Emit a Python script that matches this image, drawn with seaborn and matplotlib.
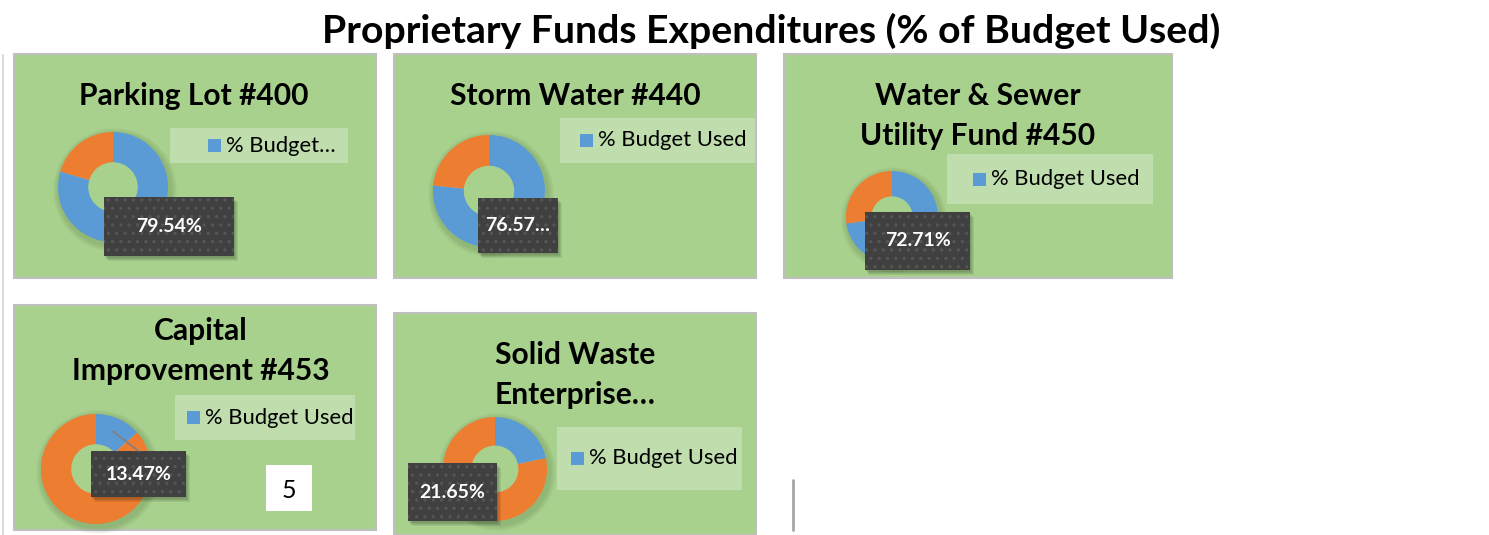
"""Proprietary Funds Expenditures - donut panels."""

import matplotlib
matplotlib.use("Agg")
import matplotlib.pyplot as plt
import numpy as np
import seaborn as sns
from matplotlib.patches import Rectangle, Wedge

# データ
fund_titles = [
    "Parking Lot #400",
    "Storm Water #440",
    "Water & Sewer\nUtility Fund #450",
    "Capital\nImprovement #453",
    "Solid Waste\nEnterprise…",
]
budget_used = [79.54, 76.57, 72.71, 13.47, 21.65]
value_labels = ["79.54%", "76.57…", "72.71%", "13.47%", "21.65%"]
legend_labels = ["% Budget…", "% Budget Used", "% Budget Used", "% Budget Used", "% Budget Used"]
chart_title = "Proprietary Funds Expenditures (% of Budget Used)"
page_number = "5"

# レイアウト（ピクセル）
W, H = 1489, 535
layout = [
    # panel box, title xy, donut (cx, cy, r), legend box, legend square x, callout box
    dict(panel=(14, 54, 376, 278), title=(194, 96), donut=(113, 187, 55),
         legend=(170, 128, 348, 163), sq=208, callout=(104, 197, 234, 256)),
    dict(panel=(394, 54, 756, 278), title=(575, 96), donut=(489, 191, 56),
         legend=(560, 118, 755, 163), sq=580, callout=(478, 198, 558, 253)),
    dict(panel=(784, 54, 1172, 278), title=(978, 116), donut=(892, 217, 46),
         legend=(947, 154, 1153, 204), sq=973, callout=(865, 212, 970, 270)),
    dict(panel=(14, 305, 376, 530), title=(201, 351), donut=(96, 469, 55),
         legend=(175, 395, 355, 440), sq=187, callout=(91, 451, 186, 497)),
    dict(panel=(394, 313, 756, 535), title=(575, 375), donut=(495, 469, 52),
         legend=(557, 427, 742, 490), sq=571, callout=(408, 463, 497, 521)),
]

GREEN = "#a9d18e"
LEGEND_BG = "#c5e0b4"
BLUE = "#5b9bd5"
ORANGE = "#ed7d31"
DARK = "#404040"

sns.set_theme(style="white")
plt.rcParams["font.family"] = ["Lato", "DejaVu Sans"]
plt.rcParams["hatch.linewidth"] = 1.2


def box(x0, y0, x1, y1):
    """ピクセル座標 -> figure 座標 [l, b, w, h]."""
    return [x0 / W, 1 - y1 / H, (x1 - x0) / W, (y1 - y0) / H]


fig = plt.figure(figsize=(W / 100, H / 100), dpi=100)
fig.patch.set_facecolor("white")

# 背景レイヤー
bg = fig.add_axes([0, 0, 1, 1], zorder=0)
bg.set_xlim(0, W)
bg.set_ylim(H, 0)
bg.axis("off")
# 上レイヤー（凡例・ラベル）
top = fig.add_axes([0, 0, 1, 1], zorder=5)
top.set_xlim(0, W)
top.set_ylim(H, 0)
top.axis("off")
top.patch.set_alpha(0)

bg.plot([3, 3], [55, 535], color="#d9d9d9", lw=1.4)
bg.plot([793, 793], [480, 530], color="#a6a6a6", lw=2)

fig.text(771 / W, 1 - 31 / H, chart_title, ha="center", va="center",
         fontsize=28.3, fontweight="bold", color="black")

for i, lay in enumerate(layout):
    x0, y0, x1, y1 = lay["panel"]
    bg.add_patch(Rectangle((x0, y0), x1 - x0, y1 - y0, facecolor=GREEN,
                           edgecolor="#bfbfbf", lw=1.5))
    tx, ty = lay["title"]
    bg.text(tx, ty, fund_titles[i], ha="center", va="center", fontsize=21.6,
            fontweight="bold", color="black", linespacing=1.55)

    # ドーナツ（影は外側のリングのみ）
    cx, cy, r = lay["donut"]
    for k in range(6):
        bg.add_patch(Wedge((cx + 2, cy + 3), r + 7 - k, 0, 360, width=10,
                           facecolor="#4d6b3a", alpha=0.045, lw=0))
    dax = fig.add_axes(box(cx - r, cy - r, cx + r, cy + r), zorder=2)
    v = budget_used[i]
    dax.pie([v, 100 - v], colors=[BLUE, ORANGE], startangle=90, counterclock=False,
            radius=1, wedgeprops=dict(width=0.55, linewidth=0))
    dax.set_xlim(-1, 1)
    dax.set_ylim(-1, 1)
    dax.axis("off")

    # 凡例
    lx0, ly0, lx1, ly1 = lay["legend"]
    top.add_patch(Rectangle((lx0, ly0), lx1 - lx0, ly1 - ly0, facecolor=LEGEND_BG,
                            edgecolor="none", alpha=0.85))
    lyc = (ly0 + ly1) / 2
    sq = lay["sq"]
    top.add_patch(Rectangle((sq, lyc - 6.5), 13, 13, facecolor=BLUE, edgecolor="none"))
    top.text(sq + 18, lyc, legend_labels[i], ha="left", va="center",
             fontsize=15.8, color="black")

    # 値ラベル
    bx0, by0, bx1, by1 = lay["callout"]
    if i == 3:
        ang = np.deg2rad(90 - v * 3.6 / 2)
        px = cx + 0.75 * r * np.cos(ang)
        py = cy - 0.75 * r * np.sin(ang)
        top.plot([px, bx0 + 0.5 * (bx1 - bx0)], [py, by0], color="#7f7f7f", lw=1.2)
    for k in range(4):
        top.add_patch(Rectangle((bx0 + 1 + k, by0 + 2 + k), bx1 - bx0, by1 - by0,
                                facecolor="black", alpha=0.07, edgecolor="none"))
    top.add_patch(Rectangle((bx0, by0), bx1 - bx0, by1 - by0, facecolor=DARK,
                            edgecolor="#555555", lw=0, hatch=".."))
    top.text((bx0 + bx1) / 2, (by0 + by1) / 2, value_labels[i], ha="center",
             va="center", fontsize=14, fontweight="bold", color="white")

# ページ番号
top.add_patch(Rectangle((266, 465), 46, 46, facecolor="white", edgecolor="none"))
top.text(289, 490, page_number, ha="center", va="center", fontsize=18, color="black")

fig.savefig("out.png", dpi=100)
plt.close(fig)
